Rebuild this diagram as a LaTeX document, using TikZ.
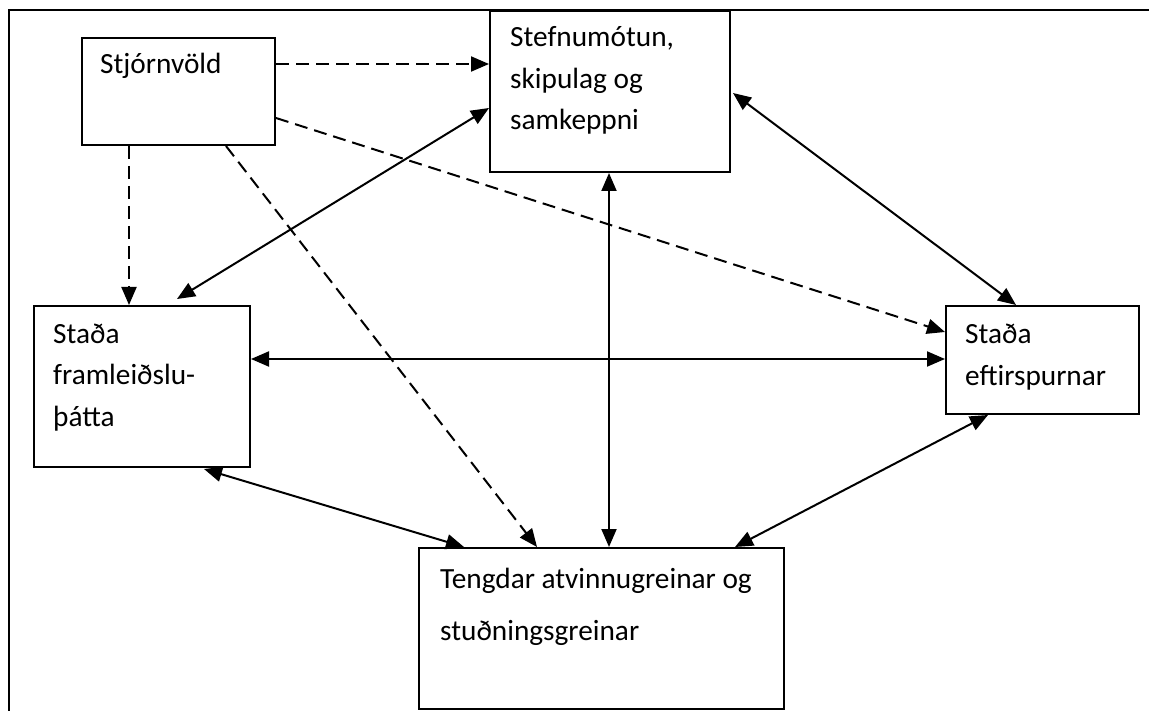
\documentclass[tikz,border=0pt]{standalone}
\usepackage{fontspec}
\setmainfont{Carlito}
\usetikzlibrary{arrows.meta,calc}
\tikzset{
  boxnode/.style={draw, line width=2pt, rectangle, inner sep=0pt, anchor=north west},
  txtnode/.style={inner sep=0pt, anchor=base west, align=left, font=\fontsize{29.3}{41.5}\selectfont},
  solidlink/.style={line width=2pt, {Triangle[length=18pt,width=15pt]}-{Triangle[length=18pt,width=15pt]}},
  dashlink/.style={line width=2pt, dash pattern=on 13pt off 7pt, -{Triangle[length=18pt,width=15pt]}},
}
\begin{document}
\begin{tikzpicture}[x=1pt,y=-1pt]
\useasboundingbox (0,0) rectangle (1149,711);
% outer frame
\draw[line width=2.4pt] (9,711) -- (9,10) -- (1149,10);
% boxes
\node[boxnode, minimum width=193pt, minimum height=107pt] (stj) at (81,37) {};
\node[boxnode, minimum width=240pt, minimum height=161pt] (pol) at (489,10) {};
\node[boxnode, minimum width=216pt, minimum height=161pt] (fac) at (33,305) {};
\node[boxnode, minimum width=193pt, minimum height=108pt] (dem) at (945,305) {};
\node[boxnode, minimum width=365pt, minimum height=161pt] (rel) at (418,547) {};
% texts (anchored at the baseline of the last line)
\node[txtnode] (stjt) at (100,74) {Stjórnvöld};
\node[txtnode, font=\fontsize{29.3}{41.5}\selectfont] (polt) at (510,130) {Stefnumótun,\\skipulag og\\samkeppni};
\node[txtnode, font=\fontsize{29.3}{41.5}\selectfont] (fact) at (53,426) {Staða\\framleiðslu-\\þátta};
\node[txtnode, font=\fontsize{29.3}{42}\selectfont] (demt) at (965,385) {Staða\\eftirspurnar};
\node[txtnode, font=\fontsize{29.3}{52}\selectfont] (relt) at (440,640) {Tengdar atvinnugreinar og\\stuðningsgreinar};
% dashed connectors from Stjórnvöld
\draw[dashlink] ($(stj.north east)+(0,27)$) -- ($(pol.north west)+(0,54)$);
\draw[dashlink] ($(stj.north east)+(0,81)$) -- ($(dem.north west)+(0,27)$);
\draw[dashlink] ($(stj.south west)+(48,0)$) -- ($(fac.north west)+(96,0)$);
\draw[dashlink] ($(stj.south west)+(145,0)$) -- ($(rel.north west)+(119,0)$);
% solid two-way connectors
\draw[solidlink] ($(fac.north west)+(144,-6)$) -- ($(pol.north west)+(0,98)$);
\draw[solidlink] ($(fac.north east)+(0,54)$) -- ($(dem.north west)+(0,54)$);
\draw[solidlink] ($(fac.south west)+(171,1)$) -- ($(rel.north west)+(46,0)$);
\draw[solidlink] ($(pol.south west)+(120,0)$) -- ($(rel.north west)+(191,0)$);
\draw[solidlink] ($(pol.north east)+(2,83)$) -- ($(dem.north west)+(71,0)$);
\draw[solidlink] ($(dem.south west)+(43,0)$) -- ($(rel.north west)+(317,0)$);
\end{tikzpicture}
\end{document}
